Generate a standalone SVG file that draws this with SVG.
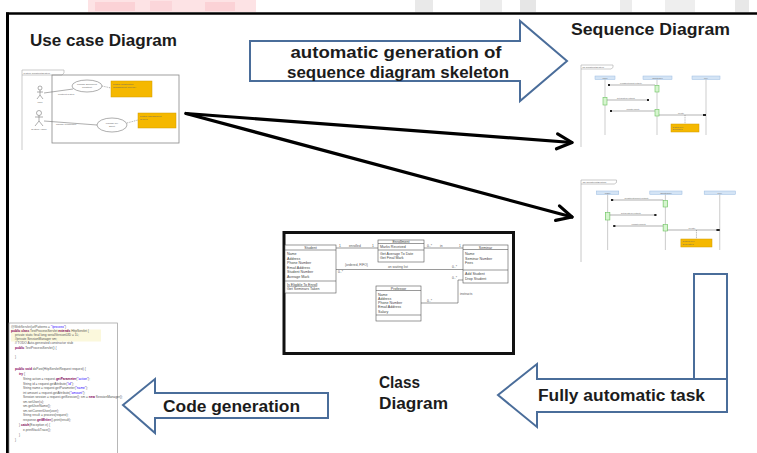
<svg xmlns="http://www.w3.org/2000/svg" xmlns:xlink="http://www.w3.org/1999/xlink" width="757" height="453" viewBox="0 0 757 453">
<style>
.title{font-family:"Liberation Sans",Arial,sans-serif;font-weight:bold;fill:#1c1c1c}
.blk{fill:#fff;stroke:#4a6d9a;stroke-width:2;stroke-linejoin:miter}
.tiny{font-family:"Liberation Sans",Arial,sans-serif;fill:#666}
.cbox{fill:#fff;stroke:#555;stroke-width:0.6}
.cl{stroke:#555;stroke-width:0.6;fill:none}
.ct{font-family:"Liberation Sans",Arial,sans-serif;font-size:3.6px;fill:#444}
.cs{font-family:"Liberation Sans",Arial,sans-serif;font-size:3.3px;fill:#555}
.code{font-family:"Liberation Sans",Arial,sans-serif;font-size:3.2px;fill:#555}
.kw{fill:#7f0055;font-weight:bold}
.gl{stroke:#aaa;stroke-width:0.6;fill:none}
.life{stroke:#b8b8b8;stroke-width:0.7}
.hdr{fill:#d4e4f5;stroke:#9cbde2;stroke-width:0.5}
.act{fill:#d6f5cf;stroke:#6cc35f;stroke-width:0.6}
.msg{stroke:#666;stroke-width:0.5}
.note{fill:#f5b800;stroke:#d39c00;stroke-width:0.5}
.conn{stroke:#000;stroke-width:3.2;fill:none;stroke-linecap:round}
</style>
<defs>
<marker id="open" markerUnits="userSpaceOnUse" markerWidth="20" markerHeight="20" viewBox="0 0 20 20" refX="17" refY="10" orient="auto">
<path d="M2,2.5 L17,10 L2,17.5" fill="none" stroke="#000" stroke-width="3.2" stroke-linecap="round" stroke-linejoin="round"/>
</marker>
<g id="seqTpl">
<path class="gl" d="M0,0 V82 M0,0 H32 V2.5 L30,4 H0"/>
<text class="tiny" x="1.5" y="3" font-size="2.4">sd ConstructSystem</text>
<rect class="hdr" x="14" y="11" width="20" height="3.5"/>
<rect class="hdr" x="62" y="11" width="29" height="3.5"/>
<rect class="hdr" x="111" y="11" width="28" height="3.5"/>
<text class="tiny" x="24" y="13.6" font-size="2.4" text-anchor="middle">User</text>
<text class="tiny" x="76.5" y="13.6" font-size="2.4" text-anchor="middle">Controller</text>
<text class="tiny" x="125" y="13.6" font-size="2.4" text-anchor="middle">Key</text>
<line class="life" x1="24" y1="14.5" x2="24" y2="70"/>
<line class="life" x1="76" y1="14.5" x2="76" y2="70"/>
<line class="life" x1="125" y1="14.5" x2="125" y2="70"/>
<line class="msg" x1="74" y1="20" x2="28" y2="20"/>
<rect x="27" y="19" width="2" height="2" fill="#222"/>
<text class="tiny" x="50" y="18.6" font-size="2.2" text-anchor="middle">construct(input,output)</text>
<rect class="act" x="74" y="20.5" width="4" height="6.5"/>
<rect class="act" x="22" y="32.5" width="4" height="7.5"/>
<line class="msg" x1="26" y1="35" x2="67" y2="35"/>
<rect x="66" y="34" width="2" height="2" fill="#222"/>
<text class="tiny" x="45" y="33.6" font-size="2.2" text-anchor="middle">set(system,output)</text>
<line class="msg" x1="74" y1="46" x2="30" y2="46"/>
<rect x="29" y="45" width="2" height="2" fill="#222"/>
<text class="tiny" x="52" y="44.6" font-size="2.2" text-anchor="middle">update(input)</text>
<rect class="act" x="74" y="44.5" width="4" height="6.5"/>
<line class="msg" x1="78" y1="50" x2="123" y2="50"/>
<rect x="122" y="49" width="3" height="2" fill="#222"/>
<text class="tiny" x="100" y="48.8" font-size="2.2" text-anchor="middle">create</text>
<line class="msg" x1="104" y1="50" x2="104" y2="59" stroke-dasharray="1,0.8"/>
<rect class="note" x="90" y="59" width="28" height="8"/>
<text class="tiny" x="91.5" y="62.5" font-size="2.2" fill="#5a4200">system key</text>
<text class="tiny" x="91.5" y="65.3" font-size="2.2" fill="#5a4200">generated</text>
</g>
</defs>

<rect width="757" height="453" fill="#fff"/>

<g id="watermark">
<rect x="88" y="0" width="168" height="12" fill="#fde3e5"/>
<rect x="95" y="2" width="40" height="9" fill="#fbd2d6"/>
<rect x="150" y="1" width="22" height="10" fill="#fbd6da"/>
<rect x="205" y="2" width="30" height="9" fill="#fbd2d6"/>
<rect x="415" y="0" width="18" height="12" fill="#e9e9e9"/>
<rect x="480" y="0" width="22" height="12" fill="#ececec"/>
<rect x="520" y="0" width="16" height="12" fill="#e6e6e6"/>
<rect x="620" y="0" width="12" height="12" fill="#ececec"/>
<rect x="665" y="0" width="30" height="12" fill="#eeeeee"/>
<rect x="735" y="0" width="14" height="12" fill="#e8e8e8"/>
</g>

<g id="slide-frame">
<line x1="6" y1="13.5" x2="757" y2="13.5" stroke="#000" stroke-width="2.5"/>
<line x1="7.5" y1="12.5" x2="7.5" y2="453" stroke="#000" stroke-width="3"/>
</g>

<g id="usecase">
<text class="title" x="30" y="46" font-size="17" textLength="147" lengthAdjust="spacingAndGlyphs">Use case Diagram</text>
<path class="gl" d="M22,70 V150 M22,70 H64 V73 L62,75 H22"/>
<text class="tiny" x="23.5" y="73.5" font-size="2.4">system ConstructSystem</text>
<rect x="52" y="75" width="127" height="68" fill="none" stroke="#888" stroke-width="0.8"/>
<g stroke="#777" stroke-width="0.6" fill="none">
<circle cx="40" cy="88" r="2"/>
<path d="M40,90 V95 M37,92 H43 M40,95 L37,99 M40,95 L43,99"/>
<circle cx="39" cy="113" r="2.5"/>
<path d="M39,115.5 V121 M35,117 H43 M39,121 L35,126 M39,121 L43,126"/>
<path d="M44,93 L73,89"/>
<path d="M44,121 L97,125"/>
<path d="M102,86 L111,88 M127,123 L138,120" stroke-dasharray="1,0.8"/>
</g>
<text class="tiny" x="40" y="103" font-size="2.4" text-anchor="middle">User</text>
<text class="tiny" x="39" y="130" font-size="2.4" text-anchor="middle">System Admin</text>
<text class="tiny" x="58" y="94.5" font-size="2.2">construct system</text>
<text class="tiny" x="56" y="124.5" font-size="2.2">manage construction</text>
<ellipse cx="87" cy="86" rx="15" ry="6" fill="#fff" stroke="#777" stroke-width="0.6"/>
<text class="tiny" x="87" y="85" font-size="2.3" text-anchor="middle">Manage Enrollment</text>
<text class="tiny" x="87" y="88" font-size="2.3" text-anchor="middle">Construct</text>
<ellipse cx="112" cy="125" rx="15" ry="7" fill="#fff" stroke="#777" stroke-width="0.6"/>
<text class="tiny" x="112" y="124" font-size="2.3" text-anchor="middle">Manage key</text>
<text class="tiny" x="112" y="127" font-size="2.3" text-anchor="middle">Sheet</text>
<rect class="note" x="111" y="81" width="41" height="16"/>
<text class="tiny" x="113" y="85" font-size="2.3" fill="#5a4200">system construction</text>
<text class="tiny" x="113" y="88" font-size="2.3" fill="#5a4200">management "Mexico"</text>
<rect class="note" x="138" y="113" width="38" height="15"/>
<text class="tiny" x="140" y="117" font-size="2.3" fill="#5a4200">system management</text>
<text class="tiny" x="140" y="120" font-size="2.3" fill="#5a4200">of keys</text>
</g>

<g id="arrow-skeleton">
<path class="blk" d="M250,41 H520 V21 L567,61 L520,101 V81 H250 Z"/>
<text class="title" x="396" y="58" font-size="17" text-anchor="middle" textLength="211" lengthAdjust="spacingAndGlyphs">automatic generation of</text>
<text class="title" x="398" y="78" font-size="17" text-anchor="middle" textLength="222" lengthAdjust="spacingAndGlyphs">sequence diagram skeleton</text>
</g>

<g id="sequence1">
<text class="title" x="571" y="35" font-size="16" textLength="159" lengthAdjust="spacingAndGlyphs">Sequence Diagram</text>
<use xlink:href="#seqTpl" transform="translate(581,65)"/>
</g>

<g id="sequence2">
<use xlink:href="#seqTpl" transform="translate(581,180) scale(1.11,1)"/>
</g>

<g id="connectors">
<line class="conn" x1="186" y1="113.5" x2="572" y2="142.5" marker-end="url(#open)"/>
<line class="conn" x1="186" y1="113.5" x2="572" y2="217" marker-end="url(#open)"/>
</g>

<g id="class-diagram">
<rect x="284" y="232.5" width="229.5" height="121" fill="#fff" stroke="#111" stroke-width="3"/>
<!-- associations -->
<path class="cl" d="M336,248 H378 M424,248 H463 M336,269.5 H463 M421,303 H458 V280 H463"/>
<text class="cs" x="339" y="246.5">1</text>
<text class="cs" x="349" y="246.5">enrolled</text>
<text class="cs" x="372" y="246.5">1</text>
<text class="cs" x="427" y="246.5">0..*</text>
<text class="cs" x="440" y="246.5">in</text>
<text class="cs" x="459" y="246.5">1</text>
<text class="cs" x="338" y="273">0..*</text>
<text class="cs" x="345" y="266">{ordered, FIFO}</text>
<text class="cs" x="388" y="268.3">on waiting list</text>
<text class="cs" x="452" y="268.3">0..*</text>
<text class="cs" x="452" y="278.5">0..*</text>
<text class="cs" x="460" y="295">instructs</text>
<text class="cs" x="427" y="301.5">0..*</text>
<!-- Student -->
<rect class="cbox" x="285" y="245" width="51" height="48"/>
<path class="cl" d="M285,250 H336 M285,281 H336"/>
<text class="ct" x="310.5" y="248.8" text-anchor="middle">Student</text>
<text class="ct" x="287" y="255">Name</text>
<text class="ct" x="287" y="259.6">Address</text>
<text class="ct" x="287" y="264.2">Phone Number</text>
<text class="ct" x="287" y="268.8">Email Address</text>
<text class="ct" x="287" y="273.4">Student Number</text>
<text class="ct" x="287" y="278">Average Mark</text>
<text class="ct" x="287" y="285.5" text-decoration="underline">Is Eligible To Enroll</text>
<text class="ct" x="287" y="290.2">Get Seminars Taken</text>
<!-- Enrollment -->
<rect class="cbox" x="378" y="240" width="46" height="22"/>
<path class="cl" d="M378,243.5 H424 M378,250 H424"/>
<text class="ct" x="401" y="243" text-anchor="middle" font-size="3.2">Enrollment</text>
<text class="ct" x="380" y="247.6">Marks Received</text>
<text class="ct" x="380" y="254.5">Get Average To Date</text>
<text class="ct" x="380" y="259">Get Final Mark</text>
<!-- Seminar -->
<rect class="cbox" x="463" y="245" width="45" height="38"/>
<path class="cl" d="M463,249.5 H508 M463,270 H508"/>
<text class="ct" x="485.5" y="248.8" text-anchor="middle">Seminar</text>
<text class="ct" x="465" y="255">Name</text>
<text class="ct" x="465" y="259.6">Seminar Number</text>
<text class="ct" x="465" y="264.2">Fees</text>
<text class="ct" x="465" y="275">Add Student</text>
<text class="ct" x="465" y="279.6">Drop Student</text>
<!-- Professor -->
<rect class="cbox" x="376" y="286" width="45" height="35"/>
<path class="cl" d="M376,290.5 H421 M376,315 H421"/>
<text class="ct" x="398.5" y="289.8" text-anchor="middle">Professor</text>
<text class="ct" x="378" y="295.5">Name</text>
<text class="ct" x="378" y="299.8">Address</text>
<text class="ct" x="378" y="304.1">Phone Number</text>
<text class="ct" x="378" y="308.4">Email Address</text>
<text class="ct" x="378" y="312.7">Salary</text>
<text class="title" x="379" y="388" font-size="16" textLength="41" lengthAdjust="spacingAndGlyphs">Class</text>
<text class="title" x="379" y="409" font-size="16" textLength="69" lengthAdjust="spacingAndGlyphs">Diagram</text>
</g>

<g id="arrow-fully-automatic">
<rect class="blk" x="694" y="274" width="33" height="105"/>
<path class="blk" d="M727,379 V412 H537 V427 L498,395 L537,364 V379 Z"/>
<text class="title" x="538" y="401" font-size="16" textLength="167" lengthAdjust="spacingAndGlyphs">Fully automatic task</text>
</g>

<g id="arrow-code-generation">
<path class="blk" d="M328,393 V418 H155 V433 L123,405 L155,379 V393 Z"/>
<text class="title" x="163" y="412" font-size="16" textLength="137" lengthAdjust="spacingAndGlyphs">Code generation</text>
</g>

<g id="code">
<rect x="9" y="323" width="108.5" height="132" fill="#fff" stroke="#999" stroke-width="0.7"/>
<rect x="11" y="329.5" width="90" height="12" fill="#fbf8dc"/>
<text class="code" x="11" y="328"><tspan fill="#646464">@WebServlet</tspan>(urlPatterns = <tspan fill="#2a00ff">"/process"</tspan>)</text>
<text class="code" x="11" y="332"><tspan class="kw">public class</tspan> TestProcessServlet <tspan class="kw">extends</tspan> HttpServlet {</text>
<text class="code" x="15" y="336">private static final long serialVersionUID = 1L;</text>
<text class="code" x="15" y="340">//private SessionManager sm;</text>
<text class="code" x="15" y="344" fill="#3f7f5f">// TODO Auto-generated constructor stub</text>
<text class="code" x="15" y="348.5"><tspan class="kw">public</tspan> TestProcessServlet() {</text>
<text class="code" x="15" y="358">}</text>
<text class="code" x="15" y="370"><tspan class="kw">public void</tspan> doPost(HttpServletRequest request) {</text>
<text class="code" x="19" y="375"><tspan class="kw">try</tspan> {</text>
<text class="code" x="23" y="380">String action = request.<tspan class="kw">getParameter</tspan>(<tspan fill="#2a00ff">"action"</tspan>);</text>
<text class="code" x="23" y="384.5">String id = request.getAttribute(<tspan fill="#2a00ff">"id"</tspan>);</text>
<text class="code" x="23" y="389">String name = request.getParameter(<tspan fill="#2a00ff">"name"</tspan>);</text>
<text class="code" x="23" y="393.5">int amount = request.getAttribute(<tspan fill="#2a00ff">"amount"</tspan>);</text>
<text class="code" x="23" y="398">Session session = request.getSession(); sm = <tspan class="kw">new</tspan> SessionManager();</text>
<text class="code" x="23" y="402.5">sm.setUser(u);</text>
<text class="code" x="23" y="407">sm.getUserName();</text>
<text class="code" x="23" y="411.5">sm.setCurrentUser(user);</text>
<text class="code" x="23" y="416">String result = process(request);</text>
<text class="code" x="23" y="420.5">response.<tspan class="kw">getWriter</tspan>().print(result);</text>
<text class="code" x="19" y="426">} <tspan class="kw">catch</tspan>(Exception e) {</text>
<text class="code" x="23" y="431">e.printStackTrace();</text>
<text class="code" x="19" y="436">}</text>
<text class="code" x="15" y="441">}</text>
</g>
</svg>
